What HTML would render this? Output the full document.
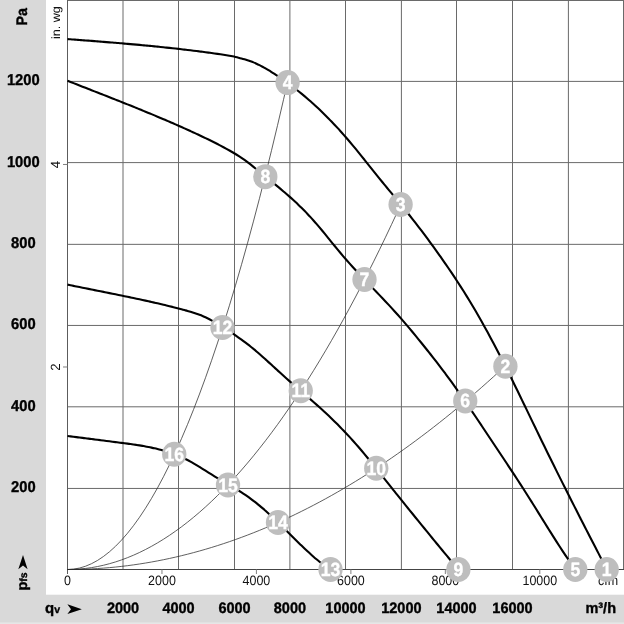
<!DOCTYPE html>
<html lang="en"><head><meta charset="utf-8"><title>Fan curve</title>
<style>html,body{margin:0;padding:0;background:#fff}body{width:624px;height:624px;overflow:hidden}svg{display:block;opacity:0.999;transform:translateZ(0);will-change:transform}</style></head>
<body>
<svg width="624" height="624" viewBox="0 0 624 624" font-family="'Liberation Sans', sans-serif" text-rendering="geometricPrecision">
<rect width="624" height="624" fill="#fff"/>
<rect x="0" y="0" width="46" height="624" fill="#d9d9d9"/>
<rect x="0" y="594.7" width="624" height="29.3" fill="#d9d9d9"/>
<rect x="0" y="622.4" width="624" height="1.6" fill="#e6e6e6"/>
<path d="M123.00,0V569.50 M178.50,0V569.50 M234.50,0V569.50 M289.90,0V569.50 M345.50,0V569.50 M401.40,0V569.50 M456.50,0V569.50 M512.50,0V569.50 M568.40,0V569.50 M623.50,0V569.50 M67.50,488.45H624 M67.50,406.80H624 M67.50,325.45H624 M67.50,244.35H624 M67.50,162.60H624 M67.50,81.40H624 M67.50,0.50H624" stroke="#6a6a6a" stroke-width="1" fill="none"/>
<path d="M67.50,0V574.00" stroke="#5c5c5c" stroke-width="1" fill="none"/>
<path d="M67.00,569.50H624" stroke="#444" stroke-width="1" fill="none"/>
<path d="M161.96,569.50v4.5 M256.42,569.50v4.5 M350.88,569.50v4.5 M445.34,569.50v4.5 M539.80,569.50v4.5 M67.50,366.99h-4.5 M67.50,164.48h-4.5" stroke="#808080" stroke-width="1" fill="none"/>
<path d="M67.50,569.50 L73.50,569.14 L79.50,568.05 L85.50,566.24 L91.50,563.70 L97.50,560.44 L103.50,556.45 L109.50,551.74 L115.50,546.30 L121.50,540.14 L127.50,533.25 L133.50,525.64 L139.50,517.30 L145.50,508.24 L151.50,498.45 L157.50,487.94 L163.50,476.70 L169.50,464.74 L175.50,452.05 L181.50,438.64 L187.50,424.50 L193.50,409.64 L199.50,394.05 L205.50,377.74 L211.50,360.70 L217.50,342.94 L223.50,324.46 L229.50,305.24 L235.50,285.31 L241.50,264.64 L247.50,243.26 L253.50,221.15 L259.50,198.31 L265.50,174.75 L271.50,150.46 L277.50,125.45 L283.50,99.71 L287.60,81.71" stroke="#2a2a2a" stroke-width="0.75" fill="none"/>
<path d="M67.50,569.50 L73.50,569.38 L79.50,569.03 L85.50,568.44 L91.50,567.61 L97.50,566.54 L103.50,565.24 L109.50,563.70 L115.50,561.93 L121.50,559.92 L127.50,557.67 L133.50,555.19 L139.50,552.47 L145.50,549.51 L151.50,546.32 L157.50,542.89 L163.50,539.22 L169.50,535.32 L175.50,531.17 L181.50,526.80 L187.50,522.19 L193.50,517.34 L199.50,512.25 L205.50,506.93 L211.50,501.37 L217.50,495.57 L223.50,489.54 L229.50,483.27 L235.50,476.76 L241.50,470.02 L247.50,463.04 L253.50,455.83 L259.50,448.37 L265.50,440.69 L271.50,432.76 L277.50,424.60 L283.50,416.20 L289.50,407.57 L295.50,398.69 L301.50,389.59 L307.50,380.24 L313.50,370.66 L319.50,360.84 L325.50,350.79 L331.50,340.50 L337.50,329.97 L343.50,319.20 L349.50,308.20 L355.50,296.97 L361.50,285.49 L367.50,273.78 L373.50,261.84 L379.50,249.65 L385.50,237.23 L391.50,224.57 L397.50,211.68 L400.60,204.93" stroke="#2a2a2a" stroke-width="0.75" fill="none"/>
<path d="M67.50,569.50 L73.50,569.46 L79.50,569.35 L85.50,569.16 L91.50,568.89 L97.50,568.54 L103.50,568.12 L109.50,567.63 L115.50,567.05 L121.50,566.40 L127.50,565.68 L133.50,564.87 L139.50,563.99 L145.50,563.04 L151.50,562.01 L157.50,560.90 L163.50,559.71 L169.50,558.45 L175.50,557.11 L181.50,555.70 L187.50,554.21 L193.50,552.64 L199.50,550.99 L205.50,549.27 L211.50,547.48 L217.50,545.60 L223.50,543.65 L229.50,541.63 L235.50,539.52 L241.50,537.34 L247.50,535.09 L253.50,532.75 L259.50,530.35 L265.50,527.86 L271.50,525.30 L277.50,522.66 L283.50,519.95 L289.50,517.15 L295.50,514.29 L301.50,511.34 L307.50,508.32 L313.50,505.22 L319.50,502.05 L325.50,498.80 L331.50,495.47 L337.50,492.07 L343.50,488.59 L349.50,485.04 L355.50,481.40 L361.50,477.69 L367.50,473.91 L373.50,470.05 L379.50,466.11 L385.50,462.09 L391.50,458.00 L397.50,453.83 L403.50,449.59 L409.50,445.27 L415.50,440.87 L421.50,436.40 L427.50,431.85 L433.50,427.22 L439.50,422.52 L445.50,417.74 L451.50,412.88 L457.50,407.95 L463.50,402.94 L469.50,397.86 L475.50,392.70 L481.50,387.46 L487.50,382.14 L493.50,376.75 L499.50,371.28 L505.40,365.83" stroke="#2a2a2a" stroke-width="0.75" fill="none"/>
<path d="M67.50,39.10 C68.00,39.14 69.50,39.25 70.50,39.32 C71.50,39.39 72.50,39.47 73.50,39.54 C74.50,39.62 75.50,39.69 76.50,39.77 C77.50,39.84 78.50,39.92 79.50,39.99 C80.50,40.07 81.50,40.14 82.50,40.22 C83.50,40.29 84.50,40.37 85.50,40.44 C86.50,40.52 87.50,40.60 88.50,40.67 C89.50,40.75 90.50,40.82 91.50,40.90 C92.50,40.98 93.50,41.06 94.50,41.13 C95.50,41.21 96.50,41.29 97.50,41.37 C98.50,41.45 99.50,41.52 100.50,41.60 C101.50,41.68 102.50,41.76 103.50,41.84 C104.50,41.92 105.50,42.00 106.50,42.08 C107.50,42.16 108.50,42.24 109.50,42.33 C110.50,42.41 111.50,42.49 112.50,42.57 C113.50,42.65 114.50,42.74 115.50,42.82 C116.50,42.90 117.50,42.99 118.50,43.07 C119.50,43.15 120.50,43.24 121.50,43.32 C122.50,43.41 123.50,43.50 124.50,43.58 C125.50,43.67 126.50,43.75 127.50,43.84 C128.50,43.93 129.50,44.02 130.50,44.11 C131.50,44.19 132.50,44.28 133.50,44.37 C134.50,44.46 135.50,44.55 136.50,44.64 C137.50,44.74 138.50,44.83 139.50,44.92 C140.50,45.01 141.50,45.10 142.50,45.20 C143.50,45.29 144.50,45.39 145.50,45.48 C146.50,45.58 147.50,45.67 148.50,45.77 C149.50,45.87 150.50,45.96 151.50,46.06 C152.50,46.16 153.50,46.26 154.50,46.36 C155.50,46.46 156.50,46.56 157.50,46.66 C158.50,46.76 159.50,46.86 160.50,46.96 C161.50,47.07 162.50,47.17 163.50,47.27 C164.50,47.38 165.50,47.48 166.50,47.59 C167.50,47.69 168.50,47.80 169.50,47.91 C170.50,48.02 171.50,48.13 172.50,48.23 C173.50,48.34 174.50,48.45 175.50,48.57 C176.50,48.68 177.50,48.79 178.50,48.90 C179.50,49.02 180.50,49.13 181.50,49.25 C182.50,49.36 183.50,49.48 184.50,49.59 C185.50,49.71 186.50,49.83 187.50,49.95 C188.50,50.07 189.50,50.19 190.50,50.31 C191.50,50.43 192.50,50.55 193.50,50.68 C194.50,50.80 195.50,50.92 196.50,51.05 C197.50,51.17 198.50,51.30 199.50,51.43 C200.50,51.56 201.50,51.68 202.50,51.81 C203.50,51.94 204.50,52.07 205.50,52.21 C206.50,52.34 207.50,52.47 208.50,52.61 C209.50,52.74 210.50,52.88 211.50,53.01 C212.50,53.15 213.50,53.29 214.50,53.43 C215.50,53.57 216.50,53.71 217.50,53.85 C218.50,53.99 219.50,54.14 220.50,54.29 C221.50,54.44 222.50,54.59 223.50,54.75 C224.50,54.90 225.50,55.06 226.50,55.23 C227.50,55.40 228.50,55.58 229.50,55.76 C230.50,55.95 231.50,56.14 232.50,56.34 C233.50,56.54 234.50,56.75 235.50,56.97 C236.50,57.19 237.50,57.42 238.50,57.66 C239.50,57.90 240.50,58.15 241.50,58.42 C242.50,58.69 243.50,58.97 244.50,59.26 C245.50,59.56 246.50,59.87 247.50,60.20 C248.50,60.53 249.50,60.87 250.50,61.24 C251.50,61.61 252.50,61.99 253.50,62.40 C254.50,62.81 255.50,63.25 256.50,63.70 C257.50,64.16 258.50,64.65 259.50,65.15 C260.50,65.65 261.50,66.18 262.50,66.72 C263.50,67.27 264.50,67.83 265.50,68.41 C266.50,68.98 267.50,69.58 268.50,70.18 C269.50,70.78 270.50,71.40 271.50,72.03 C272.50,72.65 273.50,73.29 274.50,73.93 C275.50,74.58 276.50,75.23 277.50,75.90 C278.50,76.57 279.50,77.24 280.50,77.93 C281.50,78.61 282.50,79.31 283.50,80.01 C284.50,80.72 285.50,81.43 286.50,82.15 C287.50,82.88 288.50,83.61 289.50,84.35 C290.50,85.09 291.50,85.84 292.50,86.60 C293.50,87.36 294.50,88.13 295.50,88.91 C296.50,89.69 297.50,90.47 298.50,91.27 C299.50,92.07 300.50,92.88 301.50,93.69 C302.50,94.51 303.50,95.34 304.50,96.17 C305.50,97.01 306.50,97.86 307.50,98.72 C308.50,99.57 309.50,100.44 310.50,101.32 C311.50,102.20 312.50,103.09 313.50,104.00 C314.50,104.90 315.50,105.81 316.50,106.74 C317.50,107.66 318.50,108.60 319.50,109.55 C320.50,110.50 321.50,111.46 322.50,112.43 C323.50,113.40 324.50,114.39 325.50,115.38 C326.50,116.38 327.50,117.39 328.50,118.41 C329.50,119.43 330.50,120.46 331.50,121.51 C332.50,122.55 333.50,123.60 334.50,124.67 C335.50,125.74 336.50,126.82 337.50,127.91 C338.50,128.99 339.50,130.10 340.50,131.21 C341.50,132.32 342.50,133.44 343.50,134.58 C344.50,135.71 345.50,136.86 346.50,138.01 C347.50,139.17 348.50,140.33 349.50,141.51 C350.50,142.69 351.50,143.88 352.50,145.08 C353.50,146.28 354.50,147.48 355.50,148.70 C356.50,149.91 357.50,151.14 358.50,152.37 C359.50,153.60 360.50,154.83 361.50,156.07 C362.50,157.31 363.50,158.56 364.50,159.81 C365.50,161.06 366.50,162.31 367.50,163.56 C368.50,164.81 369.50,166.06 370.50,167.32 C371.50,168.57 372.50,169.82 373.50,171.07 C374.50,172.32 375.50,173.57 376.50,174.82 C377.50,176.06 378.50,177.31 379.50,178.54 C380.50,179.78 381.50,181.01 382.50,182.24 C383.50,183.46 384.50,184.69 385.50,185.91 C386.50,187.13 387.50,188.34 388.50,189.56 C389.50,190.77 390.50,191.98 391.50,193.20 C392.50,194.41 393.50,195.62 394.50,196.83 C395.50,198.05 396.50,199.26 397.50,200.48 C398.50,201.69 399.50,202.91 400.50,204.13 C401.50,205.36 402.50,206.58 403.50,207.81 C404.50,209.04 405.50,210.28 406.50,211.52 C407.50,212.76 408.50,214.01 409.50,215.27 C410.50,216.52 411.50,217.79 412.50,219.06 C413.50,220.33 414.50,221.61 415.50,222.90 C416.50,224.19 417.50,225.48 418.50,226.78 C419.50,228.09 420.50,229.40 421.50,230.72 C422.50,232.04 423.50,233.36 424.50,234.70 C425.50,236.03 426.50,237.37 427.50,238.72 C428.50,240.07 429.50,241.43 430.50,242.80 C431.50,244.16 432.50,245.53 433.50,246.92 C434.50,248.30 435.50,249.68 436.50,251.08 C437.50,252.48 438.50,253.88 439.50,255.29 C440.50,256.71 441.50,258.12 442.50,259.55 C443.50,260.98 444.50,262.42 445.50,263.86 C446.50,265.31 447.50,266.76 448.50,268.23 C449.50,269.69 450.50,271.17 451.50,272.65 C452.50,274.14 453.50,275.64 454.50,277.15 C455.50,278.65 456.50,280.17 457.50,281.71 C458.50,283.24 459.50,284.79 460.50,286.34 C461.50,287.90 462.50,289.48 463.50,291.06 C464.50,292.65 465.50,294.25 466.50,295.87 C467.50,297.48 468.50,299.11 469.50,300.76 C470.50,302.41 471.50,304.07 472.50,305.75 C473.50,307.43 474.50,309.13 475.50,310.84 C476.50,312.55 477.50,314.27 478.50,316.01 C479.50,317.76 480.50,319.51 481.50,321.28 C482.50,323.06 483.50,324.84 484.50,326.64 C485.50,328.44 486.50,330.26 487.50,332.09 C488.50,333.92 489.50,335.77 490.50,337.63 C491.50,339.48 492.50,341.36 493.50,343.24 C494.50,345.13 495.50,347.03 496.50,348.95 C497.50,350.86 498.50,352.79 499.50,354.73 C500.50,356.67 501.50,358.62 502.50,360.59 C503.50,362.56 504.50,364.53 505.50,366.52 C506.50,368.51 507.50,370.51 508.50,372.52 C509.50,374.53 510.50,376.55 511.50,378.58 C512.50,380.60 513.50,382.64 514.50,384.68 C515.50,386.72 516.50,388.77 517.50,390.82 C518.50,392.87 519.50,394.93 520.50,396.99 C521.50,399.06 522.50,401.12 523.50,403.19 C524.50,405.26 525.50,407.33 526.50,409.40 C527.50,411.48 528.50,413.55 529.50,415.62 C530.50,417.70 531.50,419.77 532.50,421.84 C533.50,423.92 534.50,425.99 535.50,428.06 C536.50,430.12 537.50,432.19 538.50,434.25 C539.50,436.31 540.50,438.37 541.50,440.42 C542.50,442.47 543.50,444.52 544.50,446.56 C545.50,448.60 546.50,450.64 547.50,452.67 C548.50,454.71 549.50,456.74 550.50,458.76 C551.50,460.78 552.50,462.80 553.50,464.82 C554.50,466.84 555.50,468.85 556.50,470.86 C557.50,472.87 558.50,474.87 559.50,476.87 C560.50,478.87 561.50,480.87 562.50,482.86 C563.50,484.86 564.50,486.85 565.50,488.83 C566.50,490.82 567.50,492.80 568.50,494.78 C569.50,496.76 570.50,498.74 571.50,500.71 C572.50,502.69 573.50,504.66 574.50,506.63 C575.50,508.59 576.50,510.56 577.50,512.52 C578.50,514.48 579.50,516.44 580.50,518.40 C581.50,520.36 582.50,522.31 583.50,524.26 C584.50,526.21 585.50,528.16 586.50,530.11 C587.50,532.06 588.50,534.00 589.50,535.95 C590.50,537.89 591.50,539.83 592.50,541.77 C593.50,543.71 594.50,545.65 595.50,547.59 C596.50,549.52 597.50,551.46 598.50,553.39 C599.50,555.32 600.50,557.25 601.50,559.18 C602.50,561.11 603.63,563.30 604.50,564.97 C605.37,566.64 606.33,568.50 606.70,569.21" stroke="#000" stroke-width="2.1" fill="none" stroke-linejoin="round"/>
<path d="M67.50,80.76 C68.00,80.96 69.50,81.55 70.50,81.94 C71.50,82.34 72.50,82.73 73.50,83.13 C74.50,83.52 75.50,83.91 76.50,84.31 C77.50,84.70 78.50,85.09 79.50,85.49 C80.50,85.88 81.50,86.27 82.50,86.66 C83.50,87.05 84.50,87.45 85.50,87.84 C86.50,88.23 87.50,88.62 88.50,89.01 C89.50,89.40 90.50,89.80 91.50,90.19 C92.50,90.58 93.50,90.97 94.50,91.36 C95.50,91.75 96.50,92.14 97.50,92.54 C98.50,92.93 99.50,93.32 100.50,93.71 C101.50,94.10 102.50,94.50 103.50,94.89 C104.50,95.28 105.50,95.67 106.50,96.07 C107.50,96.46 108.50,96.85 109.50,97.25 C110.50,97.64 111.50,98.03 112.50,98.43 C113.50,98.82 114.50,99.22 115.50,99.61 C116.50,100.01 117.50,100.40 118.50,100.80 C119.50,101.20 120.50,101.59 121.50,101.99 C122.50,102.39 123.50,102.79 124.50,103.19 C125.50,103.58 126.50,103.98 127.50,104.38 C128.50,104.78 129.50,105.18 130.50,105.59 C131.50,105.99 132.50,106.39 133.50,106.79 C134.50,107.20 135.50,107.60 136.50,108.01 C137.50,108.41 138.50,108.82 139.50,109.22 C140.50,109.63 141.50,110.04 142.50,110.45 C143.50,110.86 144.50,111.26 145.50,111.68 C146.50,112.09 147.50,112.50 148.50,112.91 C149.50,113.32 150.50,113.74 151.50,114.15 C152.50,114.57 153.50,114.99 154.50,115.40 C155.50,115.82 156.50,116.24 157.50,116.66 C158.50,117.08 159.50,117.50 160.50,117.93 C161.50,118.35 162.50,118.77 163.50,119.20 C164.50,119.63 165.50,120.05 166.50,120.48 C167.50,120.91 168.50,121.34 169.50,121.77 C170.50,122.21 171.50,122.64 172.50,123.08 C173.50,123.51 174.50,123.95 175.50,124.39 C176.50,124.82 177.50,125.26 178.50,125.71 C179.50,126.15 180.50,126.59 181.50,127.04 C182.50,127.48 183.50,127.93 184.50,128.38 C185.50,128.83 186.50,129.28 187.50,129.73 C188.50,130.18 189.50,130.64 190.50,131.10 C191.50,131.55 192.50,132.01 193.50,132.47 C194.50,132.93 195.50,133.40 196.50,133.86 C197.50,134.33 198.50,134.79 199.50,135.26 C200.50,135.73 201.50,136.20 202.50,136.68 C203.50,137.15 204.50,137.63 205.50,138.11 C206.50,138.59 207.50,139.07 208.50,139.56 C209.50,140.04 210.50,140.53 211.50,141.03 C212.50,141.52 213.50,142.02 214.50,142.53 C215.50,143.03 216.50,143.54 217.50,144.05 C218.50,144.57 219.50,145.09 220.50,145.61 C221.50,146.14 222.50,146.67 223.50,147.21 C224.50,147.75 225.50,148.29 226.50,148.84 C227.50,149.39 228.50,149.95 229.50,150.52 C230.50,151.08 231.50,151.66 232.50,152.24 C233.50,152.82 234.50,153.42 235.50,154.02 C236.50,154.63 237.50,155.25 238.50,155.89 C239.50,156.52 240.50,157.17 241.50,157.85 C242.50,158.52 243.50,159.21 244.50,159.92 C245.50,160.63 246.50,161.37 247.50,162.12 C248.50,162.88 249.50,163.65 250.50,164.43 C251.50,165.22 252.50,166.02 253.50,166.83 C254.50,167.63 255.50,168.45 256.50,169.26 C257.50,170.08 258.50,170.90 259.50,171.72 C260.50,172.54 261.50,173.36 262.50,174.17 C263.50,174.98 264.50,175.79 265.50,176.61 C266.50,177.42 267.50,178.23 268.50,179.04 C269.50,179.85 270.50,180.66 271.50,181.48 C272.50,182.29 273.50,183.11 274.50,183.93 C275.50,184.75 276.50,185.57 277.50,186.40 C278.50,187.22 279.50,188.06 280.50,188.90 C281.50,189.74 282.50,190.58 283.50,191.43 C284.50,192.29 285.50,193.14 286.50,194.01 C287.50,194.88 288.50,195.76 289.50,196.65 C290.50,197.54 291.50,198.43 292.50,199.34 C293.50,200.25 294.50,201.17 295.50,202.10 C296.50,203.03 297.50,203.98 298.50,204.94 C299.50,205.89 300.50,206.86 301.50,207.85 C302.50,208.84 303.50,209.84 304.50,210.85 C305.50,211.87 306.50,212.90 307.50,213.95 C308.50,215.00 309.50,216.06 310.50,217.14 C311.50,218.23 312.50,219.33 313.50,220.45 C314.50,221.57 315.50,222.71 316.50,223.87 C317.50,225.03 318.50,226.21 319.50,227.40 C320.50,228.59 321.50,229.79 322.50,231.01 C323.50,232.22 324.50,233.45 325.50,234.67 C326.50,235.90 327.50,237.14 328.50,238.38 C329.50,239.61 330.50,240.85 331.50,242.09 C332.50,243.32 333.50,244.56 334.50,245.78 C335.50,247.01 336.50,248.23 337.50,249.44 C338.50,250.65 339.50,251.85 340.50,253.04 C341.50,254.22 342.50,255.40 343.50,256.56 C344.50,257.72 345.50,258.86 346.50,260.00 C347.50,261.14 348.50,262.26 349.50,263.38 C350.50,264.49 351.50,265.60 352.50,266.70 C353.50,267.79 354.50,268.88 355.50,269.96 C356.50,271.04 357.50,272.12 358.50,273.18 C359.50,274.25 360.50,275.31 361.50,276.37 C362.50,277.43 363.50,278.48 364.50,279.52 C365.50,280.57 366.50,281.62 367.50,282.66 C368.50,283.70 369.50,284.74 370.50,285.78 C371.50,286.82 372.50,287.85 373.50,288.89 C374.50,289.93 375.50,290.97 376.50,292.01 C377.50,293.05 378.50,294.09 379.50,295.13 C380.50,296.17 381.50,297.22 382.50,298.27 C383.50,299.32 384.50,300.38 385.50,301.44 C386.50,302.50 387.50,303.57 388.50,304.64 C389.50,305.71 390.50,306.79 391.50,307.88 C392.50,308.97 393.50,310.06 394.50,311.17 C395.50,312.27 396.50,313.39 397.50,314.51 C398.50,315.64 399.50,316.77 400.50,317.91 C401.50,319.05 402.50,320.20 403.50,321.36 C404.50,322.52 405.50,323.69 406.50,324.86 C407.50,326.04 408.50,327.22 409.50,328.41 C410.50,329.60 411.50,330.80 412.50,332.00 C413.50,333.20 414.50,334.41 415.50,335.63 C416.50,336.84 417.50,338.07 418.50,339.30 C419.50,340.52 420.50,341.76 421.50,343.00 C422.50,344.23 423.50,345.48 424.50,346.73 C425.50,347.97 426.50,349.23 427.50,350.48 C428.50,351.74 429.50,353.01 430.50,354.27 C431.50,355.54 432.50,356.82 433.50,358.10 C434.50,359.38 435.50,360.66 436.50,361.95 C437.50,363.25 438.50,364.55 439.50,365.85 C440.50,367.16 441.50,368.47 442.50,369.80 C443.50,371.12 444.50,372.45 445.50,373.78 C446.50,375.12 447.50,376.47 448.50,377.82 C449.50,379.18 450.50,380.54 451.50,381.92 C452.50,383.29 453.50,384.67 454.50,386.07 C455.50,387.46 456.50,388.86 457.50,390.28 C458.50,391.69 459.50,393.11 460.50,394.54 C461.50,395.97 462.50,397.41 463.50,398.86 C464.50,400.30 465.50,401.76 466.50,403.22 C467.50,404.68 468.50,406.14 469.50,407.62 C470.50,409.09 471.50,410.56 472.50,412.05 C473.50,413.53 474.50,415.02 475.50,416.51 C476.50,417.99 477.50,419.49 478.50,420.99 C479.50,422.48 480.50,423.98 481.50,425.48 C482.50,426.98 483.50,428.48 484.50,429.99 C485.50,431.49 486.50,432.99 487.50,434.50 C488.50,436.00 489.50,437.50 490.50,439.00 C491.50,440.51 492.50,442.01 493.50,443.51 C494.50,445.01 495.50,446.51 496.50,448.01 C497.50,449.51 498.50,451.01 499.50,452.51 C500.50,454.01 501.50,455.51 502.50,457.02 C503.50,458.52 504.50,460.03 505.50,461.53 C506.50,463.04 507.50,464.55 508.50,466.06 C509.50,467.58 510.50,469.09 511.50,470.61 C512.50,472.13 513.50,473.65 514.50,475.18 C515.50,476.70 516.50,478.23 517.50,479.77 C518.50,481.30 519.50,482.84 520.50,484.39 C521.50,485.93 522.50,487.48 523.50,489.04 C524.50,490.60 525.50,492.16 526.50,493.73 C527.50,495.29 528.50,496.87 529.50,498.45 C530.50,500.03 531.50,501.63 532.50,503.22 C533.50,504.82 534.50,506.42 535.50,508.02 C536.50,509.63 537.50,511.24 538.50,512.85 C539.50,514.46 540.50,516.07 541.50,517.68 C542.50,519.29 543.50,520.91 544.50,522.52 C545.50,524.13 546.50,525.74 547.50,527.34 C548.50,528.94 549.50,530.55 550.50,532.14 C551.50,533.73 552.50,535.32 553.50,536.90 C554.50,538.48 555.50,540.06 556.50,541.62 C557.50,543.18 558.50,544.73 559.50,546.27 C560.50,547.81 561.50,549.35 562.50,550.86 C563.50,552.38 564.50,553.88 565.50,555.36 C566.50,556.85 567.50,558.32 568.50,559.77 C569.50,561.23 570.50,562.66 571.50,564.08 C572.50,565.49 573.87,567.39 574.50,568.27 C575.13,569.15 575.17,569.18 575.30,569.36" stroke="#000" stroke-width="2.1" fill="none" stroke-linejoin="round"/>
<path d="M67.50,284.64 C68.00,284.75 69.50,285.05 70.50,285.26 C71.50,285.46 72.50,285.67 73.50,285.87 C74.50,286.07 75.50,286.28 76.50,286.48 C77.50,286.68 78.50,286.88 79.50,287.08 C80.50,287.29 81.50,287.49 82.50,287.69 C83.50,287.89 84.50,288.09 85.50,288.29 C86.50,288.49 87.50,288.69 88.50,288.89 C89.50,289.09 90.50,289.29 91.50,289.50 C92.50,289.70 93.50,289.90 94.50,290.10 C95.50,290.30 96.50,290.50 97.50,290.70 C98.50,290.90 99.50,291.10 100.50,291.30 C101.50,291.50 102.50,291.70 103.50,291.90 C104.50,292.10 105.50,292.30 106.50,292.50 C107.50,292.71 108.50,292.91 109.50,293.11 C110.50,293.31 111.50,293.51 112.50,293.72 C113.50,293.92 114.50,294.12 115.50,294.33 C116.50,294.53 117.50,294.73 118.50,294.94 C119.50,295.14 120.50,295.35 121.50,295.55 C122.50,295.76 123.50,295.97 124.50,296.17 C125.50,296.38 126.50,296.59 127.50,296.80 C128.50,297.00 129.50,297.21 130.50,297.42 C131.50,297.63 132.50,297.84 133.50,298.05 C134.50,298.27 135.50,298.48 136.50,298.69 C137.50,298.91 138.50,299.12 139.50,299.33 C140.50,299.55 141.50,299.77 142.50,299.98 C143.50,300.20 144.50,300.42 145.50,300.64 C146.50,300.86 147.50,301.08 148.50,301.30 C149.50,301.52 150.50,301.75 151.50,301.97 C152.50,302.19 153.50,302.42 154.50,302.65 C155.50,302.87 156.50,303.10 157.50,303.33 C158.50,303.56 159.50,303.79 160.50,304.02 C161.50,304.26 162.50,304.49 163.50,304.72 C164.50,304.96 165.50,305.20 166.50,305.44 C167.50,305.68 168.50,305.92 169.50,306.17 C170.50,306.41 171.50,306.66 172.50,306.91 C173.50,307.16 174.50,307.41 175.50,307.67 C176.50,307.93 177.50,308.19 178.50,308.45 C179.50,308.72 180.50,308.99 181.50,309.26 C182.50,309.54 183.50,309.81 184.50,310.09 C185.50,310.38 186.50,310.66 187.50,310.96 C188.50,311.25 189.50,311.55 190.50,311.85 C191.50,312.15 192.50,312.46 193.50,312.78 C194.50,313.09 195.50,313.41 196.50,313.75 C197.50,314.09 198.50,314.44 199.50,314.81 C200.50,315.18 201.50,315.56 202.50,315.97 C203.50,316.38 204.50,316.80 205.50,317.26 C206.50,317.72 207.50,318.21 208.50,318.72 C209.50,319.23 210.50,319.77 211.50,320.32 C212.50,320.87 213.50,321.45 214.50,322.04 C215.50,322.62 216.50,323.23 217.50,323.84 C218.50,324.45 219.50,325.08 220.50,325.70 C221.50,326.33 222.50,326.96 223.50,327.60 C224.50,328.23 225.50,328.87 226.50,329.51 C227.50,330.15 228.50,330.80 229.50,331.45 C230.50,332.10 231.50,332.76 232.50,333.43 C233.50,334.09 234.50,334.76 235.50,335.45 C236.50,336.13 237.50,336.82 238.50,337.52 C239.50,338.22 240.50,338.93 241.50,339.65 C242.50,340.37 243.50,341.10 244.50,341.85 C245.50,342.59 246.50,343.35 247.50,344.12 C248.50,344.89 249.50,345.68 250.50,346.48 C251.50,347.28 252.50,348.10 253.50,348.92 C254.50,349.75 255.50,350.60 256.50,351.45 C257.50,352.30 258.50,353.17 259.50,354.04 C260.50,354.91 261.50,355.79 262.50,356.68 C263.50,357.57 264.50,358.47 265.50,359.37 C266.50,360.28 267.50,361.18 268.50,362.10 C269.50,363.01 270.50,363.92 271.50,364.84 C272.50,365.76 273.50,366.68 274.50,367.60 C275.50,368.52 276.50,369.44 277.50,370.35 C278.50,371.27 279.50,372.19 280.50,373.10 C281.50,374.01 282.50,374.92 283.50,375.82 C284.50,376.72 285.50,377.62 286.50,378.51 C287.50,379.40 288.50,380.28 289.50,381.16 C290.50,382.04 291.50,382.92 292.50,383.79 C293.50,384.66 294.50,385.52 295.50,386.39 C296.50,387.26 297.50,388.12 298.50,388.98 C299.50,389.84 300.50,390.70 301.50,391.56 C302.50,392.42 303.50,393.28 304.50,394.14 C305.50,395.00 306.50,395.86 307.50,396.73 C308.50,397.59 309.50,398.46 310.50,399.33 C311.50,400.20 312.50,401.07 313.50,401.95 C314.50,402.83 315.50,403.71 316.50,404.60 C317.50,405.49 318.50,406.38 319.50,407.28 C320.50,408.18 321.50,409.09 322.50,410.01 C323.50,410.92 324.50,411.84 325.50,412.78 C326.50,413.71 327.50,414.65 328.50,415.59 C329.50,416.54 330.50,417.50 331.50,418.46 C332.50,419.43 333.50,420.40 334.50,421.38 C335.50,422.37 336.50,423.36 337.50,424.36 C338.50,425.36 339.50,426.38 340.50,427.40 C341.50,428.42 342.50,429.45 343.50,430.50 C344.50,431.54 345.50,432.60 346.50,433.66 C347.50,434.73 348.50,435.80 349.50,436.89 C350.50,437.98 351.50,439.08 352.50,440.20 C353.50,441.31 354.50,442.43 355.50,443.57 C356.50,444.71 357.50,445.86 358.50,447.02 C359.50,448.18 360.50,449.35 361.50,450.53 C362.50,451.71 363.50,452.91 364.50,454.11 C365.50,455.31 366.50,456.52 367.50,457.73 C368.50,458.95 369.50,460.17 370.50,461.40 C371.50,462.63 372.50,463.87 373.50,465.11 C374.50,466.35 375.50,467.59 376.50,468.84 C377.50,470.09 378.50,471.35 379.50,472.60 C380.50,473.85 381.50,475.11 382.50,476.37 C383.50,477.63 384.50,478.89 385.50,480.15 C386.50,481.41 387.50,482.67 388.50,483.92 C389.50,485.18 390.50,486.44 391.50,487.69 C392.50,488.94 393.50,490.20 394.50,491.45 C395.50,492.70 396.50,493.94 397.50,495.19 C398.50,496.44 399.50,497.68 400.50,498.92 C401.50,500.17 402.50,501.41 403.50,502.65 C404.50,503.89 405.50,505.13 406.50,506.37 C407.50,507.60 408.50,508.84 409.50,510.07 C410.50,511.31 411.50,512.54 412.50,513.77 C413.50,515.01 414.50,516.24 415.50,517.47 C416.50,518.70 417.50,519.93 418.50,521.16 C419.50,522.39 420.50,523.62 421.50,524.84 C422.50,526.07 423.50,527.30 424.50,528.53 C425.50,529.75 426.50,530.98 427.50,532.20 C428.50,533.43 429.50,534.66 430.50,535.88 C431.50,537.10 432.50,538.33 433.50,539.55 C434.50,540.77 435.50,541.99 436.50,543.21 C437.50,544.43 438.50,545.64 439.50,546.86 C440.50,548.08 441.50,549.29 442.50,550.50 C443.50,551.71 444.50,552.92 445.50,554.13 C446.50,555.33 447.50,556.54 448.50,557.74 C449.50,558.94 450.50,560.14 451.50,561.34 C452.50,562.53 453.50,563.73 454.50,564.92 C455.50,566.11 456.85,567.71 457.50,568.48 C458.15,569.25 458.25,569.36 458.40,569.54" stroke="#000" stroke-width="2.1" fill="none" stroke-linejoin="round"/>
<path d="M67.50,436.01 C68.00,436.07 69.50,436.26 70.50,436.39 C71.50,436.51 72.50,436.64 73.50,436.77 C74.50,436.89 75.50,437.02 76.50,437.15 C77.50,437.27 78.50,437.40 79.50,437.52 C80.50,437.65 81.50,437.78 82.50,437.90 C83.50,438.03 84.50,438.15 85.50,438.28 C86.50,438.41 87.50,438.53 88.50,438.66 C89.50,438.79 90.50,438.91 91.50,439.04 C92.50,439.16 93.50,439.29 94.50,439.42 C95.50,439.54 96.50,439.67 97.50,439.80 C98.50,439.92 99.50,440.05 100.50,440.18 C101.50,440.30 102.50,440.43 103.50,440.56 C104.50,440.69 105.50,440.81 106.50,440.94 C107.50,441.07 108.50,441.20 109.50,441.33 C110.50,441.45 111.50,441.58 112.50,441.71 C113.50,441.84 114.50,441.97 115.50,442.10 C116.50,442.23 117.50,442.36 118.50,442.49 C119.50,442.61 120.50,442.74 121.50,442.88 C122.50,443.01 123.50,443.14 124.50,443.27 C125.50,443.40 126.50,443.53 127.50,443.66 C128.50,443.80 129.50,443.93 130.50,444.07 C131.50,444.20 132.50,444.34 133.50,444.48 C134.50,444.62 135.50,444.77 136.50,444.92 C137.50,445.07 138.50,445.22 139.50,445.38 C140.50,445.54 141.50,445.70 142.50,445.87 C143.50,446.05 144.50,446.22 145.50,446.41 C146.50,446.59 147.50,446.79 148.50,446.99 C149.50,447.19 150.50,447.40 151.50,447.62 C152.50,447.84 153.50,448.06 154.50,448.30 C155.50,448.54 156.50,448.79 157.50,449.05 C158.50,449.31 159.50,449.57 160.50,449.85 C161.50,450.13 162.50,450.41 163.50,450.71 C164.50,451.00 165.50,451.30 166.50,451.61 C167.50,451.92 168.50,452.24 169.50,452.57 C170.50,452.90 171.50,453.23 172.50,453.58 C173.50,453.94 174.50,454.30 175.50,454.68 C176.50,455.06 177.50,455.45 178.50,455.86 C179.50,456.27 180.50,456.69 181.50,457.14 C182.50,457.58 183.50,458.05 184.50,458.53 C185.50,459.01 186.50,459.52 187.50,460.04 C188.50,460.56 189.50,461.10 190.50,461.65 C191.50,462.20 192.50,462.77 193.50,463.35 C194.50,463.93 195.50,464.52 196.50,465.12 C197.50,465.72 198.50,466.33 199.50,466.94 C200.50,467.56 201.50,468.18 202.50,468.80 C203.50,469.43 204.50,470.06 205.50,470.69 C206.50,471.31 207.50,471.95 208.50,472.57 C209.50,473.20 210.50,473.83 211.50,474.45 C212.50,475.07 213.50,475.69 214.50,476.30 C215.50,476.91 216.50,477.51 217.50,478.10 C218.50,478.70 219.50,479.29 220.50,479.87 C221.50,480.46 222.50,481.04 223.50,481.62 C224.50,482.20 225.50,482.78 226.50,483.36 C227.50,483.94 228.50,484.52 229.50,485.10 C230.50,485.69 231.50,486.27 232.50,486.86 C233.50,487.46 234.50,488.05 235.50,488.66 C236.50,489.26 237.50,489.87 238.50,490.49 C239.50,491.12 240.50,491.75 241.50,492.39 C242.50,493.03 243.50,493.69 244.50,494.36 C245.50,495.03 246.50,495.71 247.50,496.41 C248.50,497.11 249.50,497.83 250.50,498.56 C251.50,499.30 252.50,500.05 253.50,500.82 C254.50,501.59 255.50,502.38 256.50,503.18 C257.50,503.98 258.50,504.80 259.50,505.63 C260.50,506.47 261.50,507.31 262.50,508.17 C263.50,509.03 264.50,509.91 265.50,510.79 C266.50,511.68 267.50,512.58 268.50,513.49 C269.50,514.39 270.50,515.31 271.50,516.24 C272.50,517.17 273.50,518.11 274.50,519.06 C275.50,520.00 276.50,520.96 277.50,521.92 C278.50,522.88 279.50,523.85 280.50,524.83 C281.50,525.80 282.50,526.78 283.50,527.77 C284.50,528.75 285.50,529.75 286.50,530.74 C287.50,531.73 288.50,532.73 289.50,533.73 C290.50,534.72 291.50,535.72 292.50,536.72 C293.50,537.72 294.50,538.71 295.50,539.70 C296.50,540.69 297.50,541.68 298.50,542.67 C299.50,543.65 300.50,544.63 301.50,545.59 C302.50,546.56 303.50,547.53 304.50,548.48 C305.50,549.43 306.50,550.37 307.50,551.30 C308.50,552.22 309.50,553.14 310.50,554.04 C311.50,554.94 312.50,555.83 313.50,556.70 C314.50,557.57 315.50,558.43 316.50,559.26 C317.50,560.09 318.50,560.91 319.50,561.71 C320.50,562.50 321.50,563.28 322.50,564.03 C323.50,564.78 324.50,565.51 325.50,566.21 C326.50,566.91 327.72,567.72 328.50,568.24 C329.28,568.75 329.92,569.13 330.20,569.31" stroke="#000" stroke-width="2.1" fill="none" stroke-linejoin="round"/>
<text transform="translate(67.50,585.25) scale(1,1.090)" font-size="12.5" fill="#111" text-anchor="middle">0</text>
<text transform="translate(161.96,585.25) scale(1,1.090)" font-size="12.5" fill="#111" text-anchor="middle">2000</text>
<text transform="translate(256.42,585.25) scale(1,1.090)" font-size="12.5" fill="#111" text-anchor="middle">4000</text>
<text transform="translate(350.88,585.25) scale(1,1.090)" font-size="12.5" fill="#111" text-anchor="middle">6000</text>
<text transform="translate(445.34,585.25) scale(1,1.090)" font-size="12.5" fill="#111" text-anchor="middle">8000</text>
<text transform="translate(539.80,585.25) scale(1,1.090)" font-size="12.5" fill="#111" text-anchor="middle">10000</text>
<text transform="translate(608.00,585.25) scale(1,1.090)" font-size="12.5" fill="#111" text-anchor="middle">cfm</text>
<ellipse cx="606.70" cy="569.50" rx="12.15" ry="12.5" fill="#bebebe"/>
<text transform="translate(606.70,576.00) scale(1,1.090)" font-size="17.6" font-weight="bold" stroke="#fff" stroke-width="0.35" fill="#fff" text-anchor="middle">1</text>
<ellipse cx="505.40" cy="366.25" rx="12.15" ry="12.5" fill="#bebebe"/>
<text transform="translate(505.40,372.75) scale(1,1.090)" font-size="17.6" font-weight="bold" stroke="#fff" stroke-width="0.35" fill="#fff" text-anchor="middle">2</text>
<ellipse cx="400.60" cy="204.50" rx="12.15" ry="12.5" fill="#bebebe"/>
<text transform="translate(400.60,211.00) scale(1,1.090)" font-size="17.6" font-weight="bold" stroke="#fff" stroke-width="0.35" fill="#fff" text-anchor="middle">3</text>
<ellipse cx="287.60" cy="82.60" rx="12.15" ry="12.5" fill="#bebebe"/>
<text transform="translate(287.60,89.10) scale(1,1.090)" font-size="17.6" font-weight="bold" stroke="#fff" stroke-width="0.35" fill="#fff" text-anchor="middle">4</text>
<ellipse cx="575.30" cy="569.50" rx="12.15" ry="12.5" fill="#bebebe"/>
<text transform="translate(575.30,576.00) scale(1,1.090)" font-size="17.6" font-weight="bold" stroke="#fff" stroke-width="0.35" fill="#fff" text-anchor="middle">5</text>
<ellipse cx="465.25" cy="400.90" rx="12.15" ry="12.5" fill="#bebebe"/>
<text transform="translate(465.25,407.40) scale(1,1.090)" font-size="17.6" font-weight="bold" stroke="#fff" stroke-width="0.35" fill="#fff" text-anchor="middle">6</text>
<ellipse cx="364.50" cy="279.50" rx="12.15" ry="12.5" fill="#bebebe"/>
<text transform="translate(364.50,286.00) scale(1,1.090)" font-size="17.6" font-weight="bold" stroke="#fff" stroke-width="0.35" fill="#fff" text-anchor="middle">7</text>
<ellipse cx="265.30" cy="176.70" rx="12.15" ry="12.5" fill="#bebebe"/>
<text transform="translate(265.30,183.20) scale(1,1.090)" font-size="17.6" font-weight="bold" stroke="#fff" stroke-width="0.35" fill="#fff" text-anchor="middle">8</text>
<ellipse cx="458.40" cy="569.50" rx="12.15" ry="12.5" fill="#bebebe"/>
<text transform="translate(458.40,576.00) scale(1,1.090)" font-size="17.6" font-weight="bold" stroke="#fff" stroke-width="0.35" fill="#fff" text-anchor="middle">9</text>
<ellipse cx="376.25" cy="468.25" rx="12.15" ry="12.5" fill="#bebebe"/>
<text transform="translate(376.15,474.75) scale(1,1.090)" font-size="17.6" font-weight="bold" stroke="#fff" stroke-width="0.35" fill="#fff" text-anchor="middle" letter-spacing="-0.2">10</text>
<ellipse cx="300.75" cy="390.75" rx="12.15" ry="12.5" fill="#bebebe"/>
<text transform="translate(300.65,397.25) scale(1,1.090)" font-size="17.6" font-weight="bold" stroke="#fff" stroke-width="0.35" fill="#fff" text-anchor="middle" letter-spacing="-0.2">11</text>
<ellipse cx="222.50" cy="327.50" rx="12.15" ry="12.5" fill="#bebebe"/>
<text transform="translate(222.40,334.00) scale(1,1.090)" font-size="17.6" font-weight="bold" stroke="#fff" stroke-width="0.35" fill="#fff" text-anchor="middle" letter-spacing="-0.2">12</text>
<ellipse cx="330.50" cy="569.50" rx="12.15" ry="12.5" fill="#bebebe"/>
<text transform="translate(330.40,576.00) scale(1,1.090)" font-size="17.6" font-weight="bold" stroke="#fff" stroke-width="0.35" fill="#fff" text-anchor="middle" letter-spacing="-0.2">13</text>
<ellipse cx="278.00" cy="522.50" rx="12.15" ry="12.5" fill="#bebebe"/>
<text transform="translate(277.90,529.00) scale(1,1.090)" font-size="17.6" font-weight="bold" stroke="#fff" stroke-width="0.35" fill="#fff" text-anchor="middle" letter-spacing="-0.2">14</text>
<ellipse cx="228.00" cy="485.00" rx="12.15" ry="12.5" fill="#bebebe"/>
<text transform="translate(227.90,491.50) scale(1,1.090)" font-size="17.6" font-weight="bold" stroke="#fff" stroke-width="0.35" fill="#fff" text-anchor="middle" letter-spacing="-0.2">15</text>
<ellipse cx="174.25" cy="454.25" rx="12.15" ry="12.5" fill="#bebebe"/>
<text transform="translate(174.15,460.75) scale(1,1.090)" font-size="17.6" font-weight="bold" stroke="#fff" stroke-width="0.35" fill="#fff" text-anchor="middle" letter-spacing="-0.2">16</text>
<text transform="translate(23.30,492.00) scale(1,1.060)" font-size="14.75" font-weight="bold" stroke="#000" stroke-width="0.35" fill="#000" text-anchor="middle">200</text>
<text transform="translate(23.30,410.67) scale(1,1.060)" font-size="14.75" font-weight="bold" stroke="#000" stroke-width="0.35" fill="#000" text-anchor="middle">400</text>
<text transform="translate(23.30,329.34) scale(1,1.060)" font-size="14.75" font-weight="bold" stroke="#000" stroke-width="0.35" fill="#000" text-anchor="middle">600</text>
<text transform="translate(23.30,248.01) scale(1,1.060)" font-size="14.75" font-weight="bold" stroke="#000" stroke-width="0.35" fill="#000" text-anchor="middle">800</text>
<text transform="translate(23.30,166.68) scale(1,1.060)" font-size="14.75" font-weight="bold" stroke="#000" stroke-width="0.35" fill="#000" text-anchor="middle">1000</text>
<text transform="translate(23.30,85.35) scale(1,1.060)" font-size="14.75" font-weight="bold" stroke="#000" stroke-width="0.35" fill="#000" text-anchor="middle">1200</text>
<text transform="translate(123.00,612.90) scale(1,1.040)" font-size="14.5" font-weight="bold" stroke="#000" stroke-width="0.35" fill="#000" text-anchor="middle">2000</text>
<text transform="translate(178.50,612.90) scale(1,1.040)" font-size="14.5" font-weight="bold" stroke="#000" stroke-width="0.35" fill="#000" text-anchor="middle">4000</text>
<text transform="translate(234.50,612.90) scale(1,1.040)" font-size="14.5" font-weight="bold" stroke="#000" stroke-width="0.35" fill="#000" text-anchor="middle">6000</text>
<text transform="translate(289.90,612.90) scale(1,1.040)" font-size="14.5" font-weight="bold" stroke="#000" stroke-width="0.35" fill="#000" text-anchor="middle">8000</text>
<text transform="translate(345.50,612.90) scale(1,1.040)" font-size="14.5" font-weight="bold" stroke="#000" stroke-width="0.35" fill="#000" text-anchor="middle">10000</text>
<text transform="translate(401.40,612.90) scale(1,1.040)" font-size="14.5" font-weight="bold" stroke="#000" stroke-width="0.35" fill="#000" text-anchor="middle">12000</text>
<text transform="translate(456.50,612.90) scale(1,1.040)" font-size="14.5" font-weight="bold" stroke="#000" stroke-width="0.35" fill="#000" text-anchor="middle">14000</text>
<text transform="translate(512.50,612.90) scale(1,1.040)" font-size="14.5" font-weight="bold" stroke="#000" stroke-width="0.35" fill="#000" text-anchor="middle">16000</text>
<text transform="translate(616.00,612.90) scale(1,1.040)" font-size="14.5" font-weight="bold" stroke="#000" stroke-width="0.35" fill="#000" text-anchor="end">m³/h</text>
<text x="45" y="613" font-size="15" font-weight="bold" stroke="#000" stroke-width="0.35" fill="#000">q<tspan font-size="10.5">v</tspan></text>
<path d="M67.4,604.3 L81.8,609.2 L67.4,614 L71,609.2 Z" fill="#000"/>
<text transform="translate(60.2,366.99) rotate(-90)" font-size="13.3" fill="#111" text-anchor="middle">2</text>
<text transform="translate(60.2,164.48) rotate(-90)" font-size="13.3" fill="#111" text-anchor="middle">4</text>
<text transform="translate(59.6,39.1) rotate(-90) scale(1,0.948)" font-size="12.63" fill="#111">in. wg</text>
<text transform="translate(26.6,25.55) rotate(-90) scale(1,1.074)" font-size="14.24" font-weight="bold" stroke="#000" stroke-width="0.35" fill="#000">Pa</text>
<text transform="translate(26.5,590.5) rotate(-90)" font-size="14.5" font-weight="bold" stroke="#000" stroke-width="0.35" fill="#000">p<tspan font-size="10.5">fs</tspan></text>
<path d="M18.3,569.2 L23,555 L27.6,569.2 L23,565.6 Z" fill="#000"/>
</svg>
</body></html>
